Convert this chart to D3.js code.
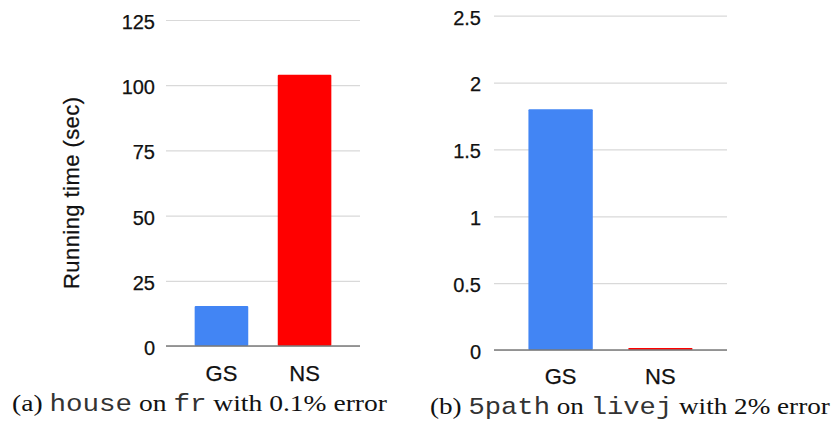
<!DOCTYPE html>
<html>
<head>
<meta charset="utf-8">
<script src="https://cdn.jsdelivr.net/npm/d3@7"></script>
<style>
  body { margin: 0; background: #fff; }
  svg { display: block; }
  .tick text { font-family: "Liberation Sans", Arial, sans-serif; fill: #111; }
</style>
</head>
<body>
<div id="chart"></div>
<script>
// data
const categories = ["GS", "NS"];
const houseTimes = [15.3, 104];     // (a) house on fr, seconds
const pathTimes = [1.8, 0.015];     // (b) 5path on livej, seconds
const houseTicks = [0, 25, 50, 75, 100, 125];
const pathTicks = [0, 0.5, 1, 1.5, 2, 2.5];
const barColors = ["#4285f4", "#ff0000"];
const captionA = [["(a) ", "serif"], ["house", "mono"], [" on ", "serif"], ["fr", "mono"], [" with 0.1% error", "serif"]];
const captionB = [["(b) ", "serif"], ["5path", "mono"], [" on ", "serif"], ["livej", "mono"], [" with 2% error", "serif"]];

const params = {
    width: 832, height: 423,
    left:  { x0: 166, x1: 360, y0: 346, y1: 20, labelX: 155, catY: 381, capX: 12, capW: 375, capY: 411 },
    right: { x0: 494, x1: 727, y0: 350, y1: 15.7, labelX: 481, catY: 384, capX: 430, capW: 400, capY: 414 }
};

let svg = d3.select("#chart")
    .append("svg")
    .attr("width", params.width)
    .attr("height", params.height);

function drawPanel(p, values, ticks, fmt) {
    let x = d3.scaleBand().domain(categories).range([p.x0, p.x1])
        .paddingInner(0.355).paddingOuter(0.345);
    let y = d3.scaleLinear().domain([0, d3.max(ticks)]).range([p.y0, p.y1]);

    let g = svg.append("g");

    // gridlines + labels
    let yAxis = g.append("g")
        .attr("transform", `translate(${p.x0},0)`)
        .call(d3.axisLeft(y).tickValues(ticks).tickFormat(fmt)
            .tickSize(-(p.x1 - p.x0)).tickPadding(p.x0 - p.labelX));
    yAxis.attr("font-size", null);
    yAxis.select(".domain").remove();
    yAxis.selectAll(".tick line").attr("stroke", "#d9d9d9").attr("stroke-width", 1.2);
    yAxis.selectAll(".tick text")
        .style("font-size", "20px")
        .attr("stroke", "#111").attr("stroke-width", 0.25)
        .attr("dy", "0.42em");

    g.selectAll(".bar")
        .data(values)
        .enter().append("rect")
        .attr("class", "bar")
        .attr("x", (d, i) => x(categories[i]))
        .attr("y", d => y(d))
        .attr("width", x.bandwidth())
        .attr("height", d => y(0) - y(d))
        .attr("rx", 1)
        .attr("fill", (d, i) => barColors[i]);

    // baseline
    g.append("line")
        .attr("x1", p.x0).attr("x2", p.x1)
        .attr("y1", y(0)).attr("y2", y(0))
        .attr("stroke", "#7a7a7a").attr("stroke-width", 1.6);

    g.selectAll(".cat")
        .data(categories)
        .enter().append("text")
        .attr("class", "cat")
        .attr("x", d => x(d) + x.bandwidth() / 2)
        .attr("y", p.catY)
        .attr("text-anchor", "middle")
        .attr("font-family", "'Liberation Sans', Arial, sans-serif")
        .style("font-size", "22px")
        .attr("fill", "#111")
        .attr("stroke", "#111").attr("stroke-width", 0.25)
        .text(d => d);
}

function drawCaption(p, parts) {
    let t = svg.append("text")
        .attr("x", p.capX).attr("y", p.capY)
        .style("font-size", "24px")
        .attr("fill", "#111");
    t.selectAll("tspan")
        .data(parts)
        .enter().append("tspan")
        .attr("font-family", d => d[1] === "mono" ? "'Liberation Mono', monospace" : "'Liberation Serif', serif")
        .attr("fill", d => d[1] === "mono" ? "#333" : "#111")
        .style("white-space", "pre")
        .text(d => d[0]);
    let w = t.node().getBBox().width;
    let sx = p.capW / w;
    t.attr("transform", `translate(${p.capX},0) scale(${sx},1) translate(${-p.capX},0)`);
}

drawPanel(params.left, houseTimes, houseTicks, d3.format("d"));
drawPanel(params.right, pathTimes, pathTicks, d => String(d));

svg.append("text")
    .attr("transform", `translate(79,193) rotate(-90)`)
    .attr("text-anchor", "middle")
    .attr("font-family", "'Liberation Sans', Arial, sans-serif")
    .style("font-size", "22px")
    .attr("fill", "#111")
    .attr("stroke", "#111").attr("stroke-width", 0.25)
    .attr("textLength", 192)
    .text("Running time (sec)");

drawCaption(params.left, captionA);
drawCaption(params.right, captionB);
</script>
</body>
</html>
